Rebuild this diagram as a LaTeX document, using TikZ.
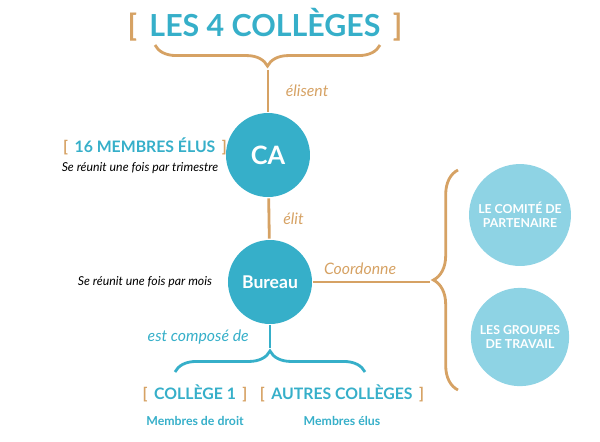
\documentclass[tikz,border=0pt]{standalone}
\usepackage{fontspec}
\setmainfont{Lato}
\usetikzlibrary{positioning,decorations.pathreplacing}
\definecolor{teal}{HTML}{36AFC9}
\definecolor{lightteal}{HTML}{8ED3E4}
\definecolor{gold}{HTML}{D6A264}

\begin{document}
\begin{tikzpicture}[%
    x=0.02cm, y=-0.02cm,
    line width=1.6pt,
    ]
% -------------------------------------------------
% Styles
\tikzset{
  bigdisc/.style={circle, fill=teal, minimum size=84*0.02cm, text=white, font=\bfseries},
  smalldisc/.style={circle, fill=lightteal, minimum size=90*0.02cm, text=white,
    font=\bfseries\scriptsize, align=center},
  link/.style={draw=gold},
  bluelink/.style={draw=teal},
  verb/.style={font=\itshape\small},
  note/.style={font=\itshape\scriptsize},
  tag/.style={font=\bfseries\small, text=teal},
  sub/.style={font=\bfseries\scriptsize, text=teal},
  brk/.style={text=gold}
}
\useasboundingbox (0,0) rectangle (600,441);
% -------------------------------------------------
% Nodes
\node[font=\bfseries\LARGE, text=teal] (title) at (265,25)
  {\textcolor{gold}{[}\, LES 4 COLLÈGES \,\textcolor{gold}{]}};
\node[bigdisc, font=\bfseries\Large] (ca) at (268,155) {CA};
\node[bigdisc] (bureau) at (270,282) {Bureau};
\node[smalldisc] (comite) at (520,215) {LE COMITÉ DE\\PARTENAIRE};
\node[smalldisc] (groupes) at (520,337) {LES GROUPES\\DE TRAVAIL};

\node[tag] (membres) at (145,146) {\textcolor{gold}{[}\, 16 MEMBRES ÉLUS \,\textcolor{gold}{]}};
\node[note] (trim) at (140,168) {Se réunit une fois par trimestre};
\node[note] (mois) at (145,282) {Se réunit une fois par mois};

\node[tag] (college) at (195,393) {\textcolor{gold}{[}\, COLLÈGE 1 \,\textcolor{gold}{]}};
\node[sub, below=0pt of college] (droit) {Membres de droit};
\node[tag] (autres) at (342,393) {\textcolor{gold}{[}\, AUTRES COLLÈGES \,\textcolor{gold}{]}};
\node[sub, below=0pt of autres] (elus) {Membres élus};

% Brace tips
\coordinate (toptip) at (268,70);
\coordinate (righttip) at (430,282);
\coordinate (bottip) at (270,348);

% -------------------------------------------------
% Braces and connectors
\draw[link, decorate, decoration={brace, mirror, amplitude=12pt}] (155,45) -- (380,45);
\draw[link, decorate, decoration={brace, mirror, amplitude=14pt}] (458,170) -- (458,390);
\draw[bluelink, decorate, decoration={brace, amplitude=12pt}] (175,372) -- (365,372);

\draw[link] (toptip) -- (ca) node[midway, right=6pt, text=gold, verb] {élisent};
\draw[link] (ca) -- (bureau) node[midway, right=4pt, text=gold, verb] {élit};
\draw[link] (bureau) -- (righttip) node[pos=0.4, above, text=gold, verb] {Coordonne};
\draw[bluelink] (bureau) -- (bottip) node[midway, left=8pt, text=teal, verb] {est composé de};
% -------------------------------------------------
\end{tikzpicture}
\end{document}
